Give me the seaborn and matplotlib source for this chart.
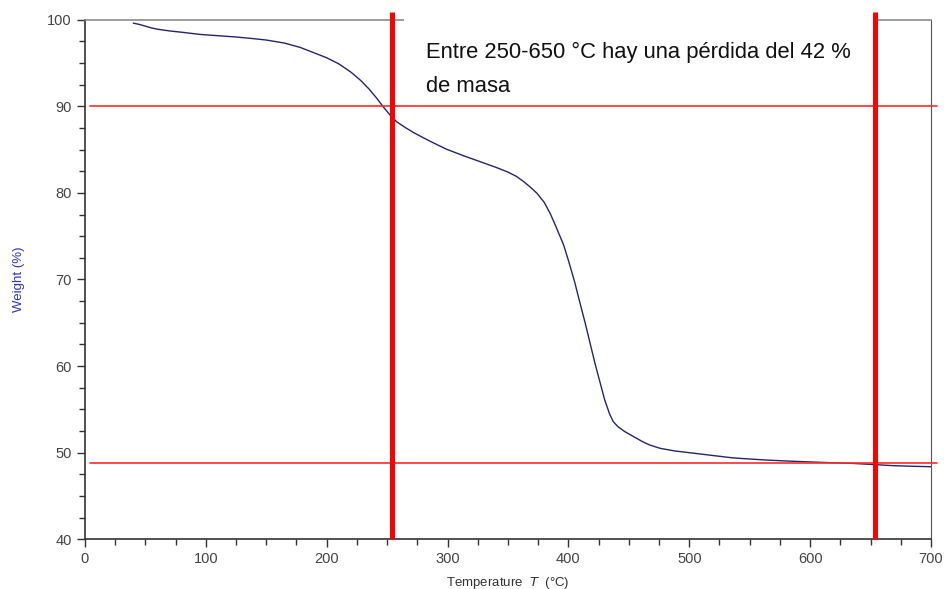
import numpy as np
import pandas as pd
import matplotlib
matplotlib.use("Agg")
import matplotlib.pyplot as plt
from matplotlib.patches import Rectangle
from matplotlib.ticker import MultipleLocator
import seaborn as sns

# curva TGA
temperatura = [40, 45, 50, 55, 60, 70, 80, 95, 110, 125, 140, 150, 165, 178, 190, 200,
               210, 220, 228, 235, 241, 247, 253, 258, 265, 272, 285, 299, 313, 327,
               340, 350, 357, 363, 369, 374, 380, 385, 390, 396, 400, 405, 409, 414,
               418, 422, 426, 430, 434, 437, 441, 447, 454, 461, 467, 476, 488, 500,
               518, 536, 550, 564, 582, 600, 616, 633, 650, 669, 685, 700]
peso = [99.6, 99.45, 99.25, 99.05, 98.9, 98.7, 98.55, 98.3, 98.15, 98.0, 97.8, 97.65,
        97.3, 96.8, 96.15, 95.6, 94.9, 93.95, 93.0, 92.0, 91.0, 89.9, 88.9, 88.2,
        87.55, 86.95, 86.0, 85.05, 84.3, 83.6, 82.95, 82.4, 81.9, 81.3, 80.6, 79.95,
        78.9, 77.6, 76.0, 74.0, 72.2, 69.8, 67.6, 64.9, 62.6, 60.3, 58.2, 56.1, 54.5,
        53.6, 53.0, 52.4, 51.85, 51.3, 50.9, 50.5, 50.2, 50.0, 49.7, 49.4, 49.27,
        49.15, 49.03, 48.93, 48.85, 48.78, 48.65, 48.5, 48.43, 48.38]

# lineas de referencia
t_inicio, t_fin = 254, 654
peso_alto, peso_bajo = 90, 48.78
texto = "Entre 250-650 °C hay una pérdida del 42 %\nde masa"

sns.set_style("white")
plt.rcParams['font.family'] = ['Liberation Sans', 'DejaVu Sans']

df = pd.DataFrame({"T": temperatura, "W": peso})

fig = plt.figure(figsize=(9.45, 5.89), dpi=100)
ax = fig.add_axes([0.0899, 0.0844, 0.8953, 0.8822])

sns.lineplot(data=df, x="T", y="W", ax=ax, color="#25256e", linewidth=1.0)

ax.set_xlim(0, 700)
ax.set_ylim(40, 100)
ax.xaxis.set_major_locator(MultipleLocator(100))
ax.xaxis.set_minor_locator(MultipleLocator(25))
ax.yaxis.set_major_locator(MultipleLocator(10))
ax.yaxis.set_minor_locator(MultipleLocator(2.5))
ax.tick_params(which="major", direction="out", length=6, width=1, colors="#333333",
               labelsize=10.5, left=True, bottom=True)
ax.tick_params(which="minor", direction="out", length=4, width=1, colors="#333333",
               left=True, bottom=True)
ax.tick_params(axis="both", labelcolor="#444444")

for s in ["left", "bottom"]:
    ax.spines[s].set_color("#333333")
    ax.spines[s].set_linewidth(1.2)
ax.spines["top"].set_color("#8c8c8c")
ax.spines["right"].set_color("#555555")
ax.spines["top"].set_linewidth(1.2)

ax.set_xlabel("Temperature  $T$  (°C)", fontsize=9.5, color="#333333", labelpad=6)
ax.set_ylabel("Weight (%)", fontsize=9.5, color="#3333bb", labelpad=16)

# caja blanca detras del texto
ax.add_patch(Rectangle((264, 91), 388, 9.8, facecolor="white", edgecolor="none",
                       clip_on=False, zorder=4))

ax.plot([4, 705], [peso_alto, peso_alto], color="#ff2a2a", linewidth=1.2,
        clip_on=False, zorder=5)
ax.plot([4, 705], [peso_bajo, peso_bajo], color="#ff2a2a", linewidth=1.2,
        clip_on=False, zorder=5)
for t in [t_inicio, t_fin]:
    ax.plot([t, t], [40, 100.9], color="#ff0000", linewidth=3.6,
            clip_on=False, zorder=6, solid_capstyle="butt")

ax.text(282, 97.45, texto, fontsize=15.8, va="top", ha="left", linespacing=1.85,
        color="#111111", zorder=7)

fig.savefig("out.png", dpi=100)
